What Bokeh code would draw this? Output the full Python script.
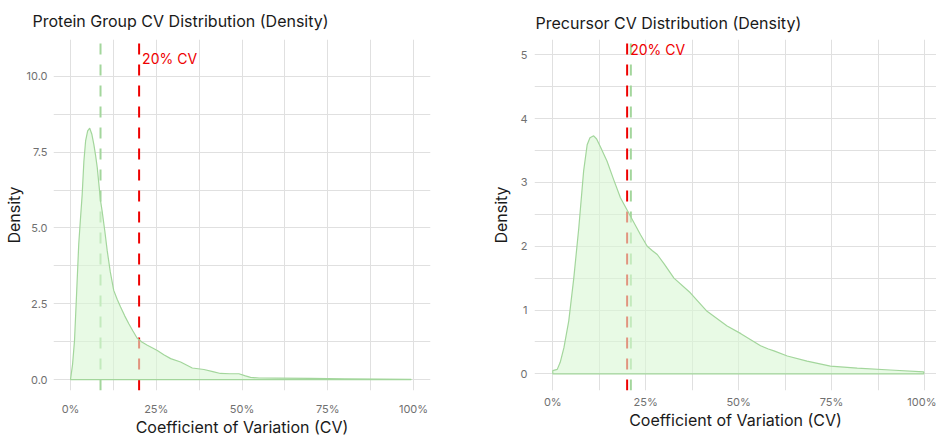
from bokeh.plotting import figure
from bokeh.models import FixedTicker, Title
from bokeh.layouts import row
from bokeh.embed import file_html
from bokeh.resources import INLINE
from bokeh.core.properties import value

# ---------------- data ----------------
protein_cv = [0.0, 0.006, 0.0117, 0.018, 0.024, 0.029, 0.034, 0.039, 0.044, 0.050, 0.056,
              0.062, 0.068, 0.073, 0.078, 0.0875, 0.092, 0.100, 0.107, 0.116, 0.126, 0.136,
              0.146, 0.158, 0.170, 0.182, 0.194, 0.208, 0.224, 0.238, 0.253, 0.272, 0.292,
              0.321, 0.355, 0.389, 0.415, 0.437, 0.465, 0.491, 0.510, 0.525, 0.55, 0.6,
              0.7, 0.8, 0.9, 0.993]
protein_density = [0.0, 0.5, 1.29, 2.9, 4.47, 5.3, 6.1, 7.2, 7.87, 8.2, 8.29,
                   8.1, 7.76, 7.4, 6.99, 5.9, 5.57, 4.9, 4.25, 3.55, 2.94, 2.65,
                   2.39, 2.1, 1.84, 1.6, 1.37, 1.24, 1.13, 1.05, 0.96, 0.82, 0.69,
                   0.58, 0.38, 0.33, 0.26, 0.2, 0.19, 0.19, 0.12, 0.07, 0.05, 0.045,
                   0.035, 0.025, 0.015, 0.005]

precursor_cv = [0.0, 0.012, 0.020, 0.030, 0.043, 0.0565, 0.070, 0.083, 0.0925, 0.100,
                0.110, 0.118, 0.128, 0.146, 0.164, 0.182, 0.209, 0.236, 0.254, 0.268,
                0.281, 0.300, 0.326, 0.370, 0.415, 0.469, 0.506, 0.559, 0.580, 0.595,
                0.631, 0.684, 0.747, 0.819, 0.908, 0.998]
precursor_density = [0.05, 0.07, 0.18, 0.41, 0.83, 1.5, 2.29, 3.18, 3.59, 3.7,
                     3.73, 3.68, 3.56, 3.33, 3.04, 2.76, 2.47, 2.18, 2.0, 1.93,
                     1.87, 1.72, 1.5, 1.27, 0.98, 0.75, 0.63, 0.44, 0.39, 0.36,
                     0.28, 0.2, 0.12, 0.09, 0.06, 0.03]

protein_median_cv = 0.0875
precursor_median_cv = 0.21
cv_threshold = 0.20
threshold_label = "20% CV"

x_ticks = [0.0, 0.25, 0.5, 0.75, 1.0]
x_minor_ticks = [0.125, 0.375, 0.625, 0.875]
x_tick_labels = ["0%", "25%", "50%", "75%", "100%"]

protein_y_ticks = [0.0, 2.5, 5.0, 7.5, 10.0]
protein_y_minor = [1.25, 3.75, 6.25, 8.75]
protein_y_labels = ["0.0", "2.5", "5.0", "7.5", "10.0"]

precursor_y_ticks = [0, 1, 2, 3, 4, 5]
precursor_y_minor = [0.5, 1.5, 2.5, 3.5, 4.5]
precursor_y_labels = ["0", "1", "2", "3", "4", "5"]

x_title = "Coefficient of Variation (CV)"
y_title = "Density"

# ---------------- styling ----------------
FONT = "Inter"
GRID = "#e0e0e0"
LINE_GREEN = "#a3d69c"
FILL_GREEN = "#d9f7d4"
RED = "#ee0000"
TITLE_SIZE = "16px"
AXIS_TITLE_SIZE = "16px"


def style(p, xt, xm, xl, yt, ym, yl):
    p.outline_line_color = None
    p.background_fill_color = "white"
    p.border_fill_color = "white"
    p.xaxis.ticker = FixedTicker(ticks=xt, minor_ticks=xm)
    p.yaxis.ticker = FixedTicker(ticks=yt, minor_ticks=ym)
    p.xgrid.ticker = FixedTicker(ticks=xt, minor_ticks=xm)
    p.ygrid.ticker = FixedTicker(ticks=yt, minor_ticks=ym)
    p.xaxis.major_label_overrides = {t: l for t, l in zip(xt, xl)}
    p.yaxis.major_label_overrides = {t: l for t, l in zip(yt, yl)}
    for ax in (p.xaxis[0], p.yaxis[0]):
        ax.axis_line_color = None
        ax.major_tick_line_color = None
        ax.minor_tick_line_color = None
        ax.major_tick_out = 0
        ax.major_tick_in = 0
        ax.minor_tick_out = 0
        ax.minor_tick_in = 0
        ax.major_label_text_font = FONT
        ax.major_label_text_font_size = "11px"
        ax.major_label_text_color = "#707070"
        ax.axis_label_text_font = FONT
        ax.axis_label_text_font_size = AXIS_TITLE_SIZE
        ax.axis_label_text_font_style = "normal"
        ax.axis_label_text_color = "#1a1a1a"
    for g in (p.xgrid[0], p.ygrid[0]):
        g.grid_line_color = GRID
        g.grid_line_width = 1
        g.minor_grid_line_color = GRID
        g.minor_grid_line_width = 1
    p.title.text_font = FONT
    p.title.text_font_size = TITLE_SIZE
    p.title.text_font_style = "normal"
    p.title.text_color = "#1a1a1a"
    p.title.align = "left"


def x_title_below(p, offset, standoff):
    p.add_layout(Title(text=x_title, align="center", offset=offset, standoff=standoff,
                       text_font=FONT, text_font_size=AXIS_TITLE_SIZE,
                       text_font_style="normal", text_color="#1a1a1a"), "below")


def draw(p, cv, dens, median, label_y):
    y0, y1 = p.y_range.start, p.y_range.end
    p.segment(x0=[cv_threshold], y0=[y0], x1=[cv_threshold], y1=[y1],
              line_color=RED, line_width=2, line_dash="11 10")
    p.segment(x0=[median], y0=[y0], x1=[median], y1=[y1],
              line_color=LINE_GREEN, line_width=2, line_dash="11 10")
    xs = list(cv) + [cv[-1], cv[0]]
    ys = list(dens) + [0, 0]
    p.patch(xs, ys, fill_color=FILL_GREEN, fill_alpha=0.6,
            line_color=LINE_GREEN, line_width=1.2)
    p.text(x=[cv_threshold], y=[label_y], text=[threshold_label], x_offset=3,
           text_align="left", text_baseline="middle", text_color=RED,
           text_font=value(FONT), text_font_size="14px")


# ---------------- left panel ----------------
p1 = figure(width=470, height=437, x_range=(-0.0496, 1.0496), y_range=(-0.362, 11.217),
            output_backend="svg", toolbar_location=None,
            min_border_left=53, min_border_right=40, min_border_top=38, min_border_bottom=47,
            title="Protein Group CV Distribution (Density)")
style(p1, x_ticks, x_minor_ticks, x_tick_labels, protein_y_ticks, protein_y_minor, protein_y_labels)
p1.yaxis.axis_label = y_title
p1.yaxis.major_label_standoff = 6
p1.yaxis.axis_label_standoff = 0
p1.xaxis.major_label_standoff = 11
p1.title.offset = -21
p1.title.standoff = 17
p1.title.text_line_height = 0.8
x_title_below(p1, -4, -8)
draw(p1, protein_cv, protein_density, protein_median_cv, 10.6)

# ---------------- right panel ----------------
p2 = figure(width=466, height=437, x_range=(-0.0492, 1.0323), y_range=(-0.261, 5.239),
            output_backend="svg", toolbar_location=None,
            min_border_left=64, min_border_right=0, min_border_top=38, min_border_bottom=47,
            title="Precursor CV Distribution (Density)")
style(p2, x_ticks, x_minor_ticks, x_tick_labels, precursor_y_ticks, precursor_y_minor, precursor_y_labels)
p2.yaxis.axis_label = y_title
p2.yaxis.major_label_standoff = 7
p2.yaxis.axis_label_standoff = 6
p2.xaxis.major_label_standoff = 4
p2.title.offset = 1
p2.title.standoff = 14
p2.title.text_line_height = 0.9
x_title_below(p2, 16, -7)
draw(p2, precursor_cv, precursor_density, precursor_median_cv, 5.09)

layout = row(p1, p2)
open("out.html", "w").write(file_html(layout, INLINE))
